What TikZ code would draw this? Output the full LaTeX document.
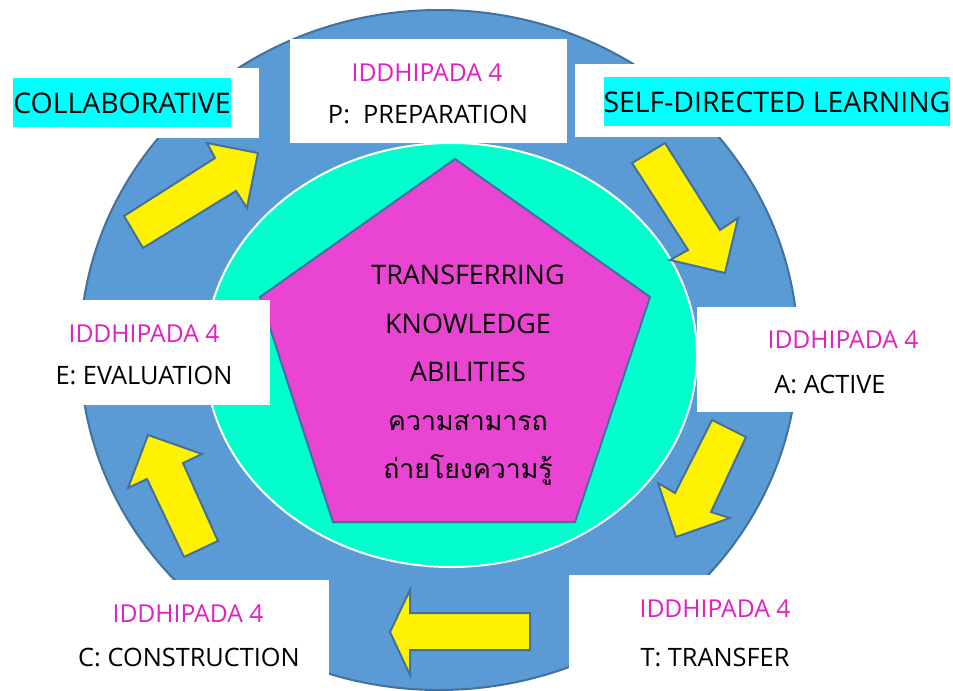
\documentclass[tikz,border=0pt]{standalone}
\usepackage{fontspec}
\setmainfont{Open Sans}
\newfontfamily\thaifont[Script=Thai]{Loma}
\definecolor{ringblue}{RGB}{91,155,213}
\definecolor{edgeblue}{RGB}{65,113,156}
\definecolor{innergreen}{RGB}{0,255,204}
\definecolor{pentapink}{RGB}{234,68,210}
\definecolor{iddpink}{RGB}{224,32,192}
\definecolor{hlcyan}{RGB}{0,255,255}
\tikzset{
  yarrow/.style={fill=yellow, draw=edgeblue, line width=1.5pt},
  lbl/.style={font=\fontsize{19}{22}\selectfont, inner sep=0pt, anchor=base},
  idd/.style={lbl, font=\fontsize{18.5}{22}\selectfont, text=iddpink},
  hl/.style={fill=hlcyan, font=\fontsize{21.3}{25}\selectfont, inner xsep=0pt,
    minimum height=36.75pt, anchor=base},
  core/.style={font=\fontsize{20.2}{24}\selectfont, inner sep=0pt, anchor=base},
}
\begin{document}
\begin{tikzpicture}[x=0.75pt, y=-0.75pt]
  \useasboundingbox (0,0) rectangle (953,690);
  \begin{scope}
    \clip (0,0) rectangle (953,690);
    \draw[fill=ringblue, draw=edgeblue, line width=1.5pt]
      (439,350) ellipse [x radius=359, y radius=340];
  \end{scope}
  \draw[fill=innergreen, draw=white, line width=1.5pt]
    (451,355) ellipse [x radius=246, y radius=212];
  \draw[fill=pentapink, draw=edgeblue, line width=1.5pt]
    (455,159) -- (650,297) -- (575,522) -- (333,522) -- (260,297) -- cycle;

  % boxes over the ring
  \fill[white] (290,39) rectangle (567,143);
  \fill[white] (0,68) rectangle (259,138);
  \fill[white] (575,64) rectangle (953,137);
  \fill[white] (0,300) rectangle (270,405);
  \fill[white] (697,307) rectangle (953,412);
  \fill[white] (0,580) rectangle (329,690);
  \fill[white] (569,575) rectangle (953,690);

  % arrows round the ring
  \draw[yarrow] (124,216) -- (215,158) -- (207,143) -- (258,153)
    -- (247,208) -- (236,191) -- (143,248) -- cycle;
  \draw[yarrow] (665,143) -- (720,230) -- (738,218) -- (725,273)
    -- (670,260) -- (688,250) -- (632,163) -- cycle;
  \draw[yarrow] (746,437) -- (711,512) -- (730,518) -- (676,537)
    -- (658,483) -- (675,493) -- (712,420) -- cycle;
  \draw[yarrow] (530,613) -- (410,613) -- (410,590) -- (390,632)
    -- (410,675) -- (410,650) -- (530,650) -- cycle;
  \draw[yarrow] (218,541) -- (183,463) -- (202,454) -- (148,435)
    -- (128,488) -- (147,479) -- (184,557) -- cycle;

  \node[hl] (collab) at (122,113) {COLLABORATIVE};
  \node[hl] (selfdir) at (777,112) {SELF-DIRECTED LEARNING};

  \node[idd] (pidd) at (427,81) {IDDHIPADA 4};
  \node[lbl] (prep) at (428,123) {P:\ \ PREPARATION};
  \node[idd] (aidd) at (843,348) {IDDHIPADA 4};
  \node[lbl] (active) at (830,393) {A: ACTIVE};
  \node[idd] (tidd) at (715,617) {IDDHIPADA 4};
  \node[lbl] (transfer) at (715,666) {T: TRANSFER};
  \node[idd] (cidd) at (188,622) {IDDHIPADA 4};
  \node[lbl] (construct) at (189,666) {C: CONSTRUCTION};
  \node[idd] (eidd) at (144,342) {IDDHIPADA 4};
  \node[lbl] (evalu) at (144,384) {E: EVALUATION};

  \node[core] (core1) at (468,284) {TRANSFERRING};
  \node[core] (core2) at (468,333) {KNOWLEDGE};
  \node[core] (core3) at (468,381) {ABILITIES};
  \node[core, font=\thaifont\fontsize{20}{24}\selectfont] (core4) at (468,430) {ความสามารถ};
  \node[core, font=\thaifont\fontsize{20}{24}\selectfont] (core5) at (468,478) {ถ่ายโยงความรู้};
\end{tikzpicture}
\end{document}
